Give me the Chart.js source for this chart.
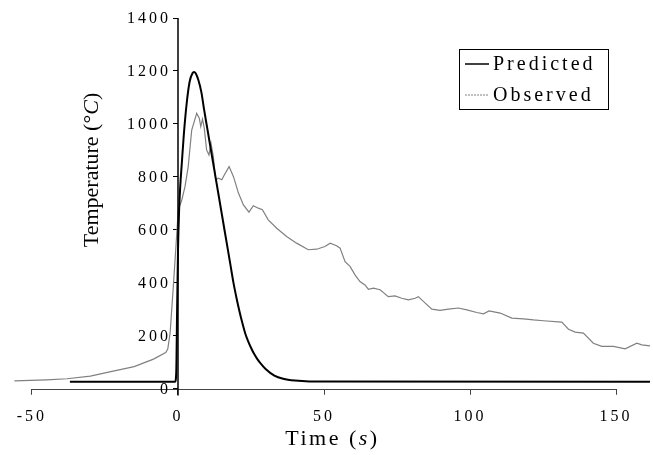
<!DOCTYPE html>
<html>
<head>
<meta charset="utf-8">
<script src="https://cdn.jsdelivr.net/npm/chart.js@4/dist/chart.umd.min.js"></script>
<style>
  html, body { margin: 0; padding: 0; background: #fff; }
  #wrap { width: 653px; height: 455px; position: relative; }
</style>
</head>
<body>
<div id="wrap"><canvas id="tempChart"></canvas></div>
<script>
// values
const xTicks = [-50, 0, 50, 100, 150];

const predTime = [-37, -1, -0.6, -0.3, 0, 0.4, 0.8, 1.3, 2, 3, 4, 5, 5.5, 6, 7, 8, 9, 10, 11, 12, 13, 14,
  15, 16, 17, 18, 19, 20, 21, 22, 23, 24, 25, 26, 27, 28, 30, 33, 36, 40, 45, 161.6];
const predTemp = [27, 27, 60, 300, 520, 680, 770, 850, 960, 1080, 1160, 1192, 1196, 1192, 1165, 1120, 1050, 985,
  920, 855, 790, 725, 660, 595, 530, 465, 400, 345, 295, 250, 210, 180, 155, 133, 115, 100, 75, 50, 38, 31, 28, 27];

const obsTime = [-56, -45, -38, -30, -23, -15, -8.4, -4.2, -3.5, -2.7, -1.6, -0.7, 0.1, 1.3, 2.4, 3.5, 4.7,
  6.4, 7.3, 7.8, 8.4, 9, 9.8, 10.6, 11.3, 12.1, 12.9, 13.8, 15, 15.9, 17.5, 19, 20.7, 22.4, 24.3, 25.8,
  27.5, 28.9, 30.9, 33.8, 37.2, 40.6, 44.6, 47.5, 50.3, 52.1, 54.3, 55.5, 57.2, 58.9, 60.6, 62.3, 64,
  65.2, 66.9, 69.2, 72, 74.3, 76.6, 78.9, 81.2, 82.3, 84, 86.9, 89.7, 92.6, 96, 98.9, 102.3, 104.6,
  106.5, 110.3, 114.3, 118.3, 121.7, 125.1, 131.4, 133.7, 136, 138.8, 142.2, 145.1, 149.1, 153.1,
  157.1, 158.8, 161.6];
const obsTemp = [30, 34, 38, 48, 65, 84, 112, 137, 150, 210, 386, 537, 676, 713, 763, 839, 977,
  1040, 1022, 990, 1018, 984, 902, 883, 927, 877, 789, 795, 789, 808, 839, 801, 739, 694, 667, 691,
  682, 676, 638, 606, 575, 550, 525, 527, 537, 550, 540, 531, 480, 462, 430, 405, 392,
  376, 380, 374, 348, 351, 342, 336, 342, 348, 330, 301, 296, 301, 305, 298, 288, 283,
  294, 286, 267, 264, 260, 257, 252, 225, 214, 210, 172, 160, 160, 151,
  172, 166, 162];

const serif = '"Liberation Serif", "Times New Roman", serif';

function toPoints(xs, ys) {
  return xs.map((v, i) => ({ x: v, y: ys[i] }));
}

// draws a run of text parts, some italic
function drawParts(ctx, parts, cx, cy, size, spacing) {
  ctx.letterSpacing = spacing + 'px';
  let total = 0;
  const widths = parts.map(p => {
    ctx.font = (p[1] ? 'italic ' : '') + size + 'px ' + serif;
    const w = ctx.measureText(p[0]).width;
    total += w;
    return w;
  });
  let px = cx - total / 2;
  ctx.textAlign = 'left';
  ctx.textBaseline = 'middle';
  parts.forEach((p, i) => {
    ctx.font = (p[1] ? 'italic ' : '') + size + 'px ' + serif;
    ctx.fillText(p[0], px, cy);
    px += widths[i];
  });
}

const decor = {
  id: 'decor',
  beforeDraw(chart) {
    chart.ctx.letterSpacing = '3px';
  },
  afterDraw(chart) {
    const { ctx, scales: { x, y }, chartArea } = chart;
    ctx.save();
    ctx.fillStyle = '#000';

    // x axis line, only between first and last tick
    const y0 = Math.round(y.getPixelForValue(0)) + 0.5;
    ctx.strokeStyle = '#444';
    ctx.lineWidth = 1;
    ctx.beginPath();
    ctx.moveTo(x.getPixelForValue(xTicks[0]), y0);
    ctx.lineTo(x.getPixelForValue(xTicks[xTicks.length - 1]), y0);
    ctx.stroke();

    // y axis line at x = 0, running a little past the x axis
    const x0 = Math.round(x.getPixelForValue(0));
    ctx.strokeStyle = '#000';
    ctx.lineWidth = 1.5;
    ctx.beginPath();
    ctx.moveTo(x0, y.getPixelForValue(y.max));
    ctx.lineTo(x0, y0 + 6);
    ctx.stroke();

    // y tick labels, left of the tick marks
    ctx.letterSpacing = '3px';
    ctx.font = '16px ' + serif;
    ctx.textAlign = 'right';
    ctx.textBaseline = 'middle';
    y.ticks.forEach(t => {
      ctx.fillText(String(t.value), x0 - 7, y.getPixelForValue(t.value) + 1);
    });

    // axis titles
    drawParts(ctx, [['Time (', false], ['s', true], [')', false]],
      (chartArea.left + chartArea.right) / 2, 439, 22, 2.5);
    ctx.save();
    ctx.translate(92, 170);
    ctx.rotate(-Math.PI / 2);
    drawParts(ctx, [['Temperature (°', false], ['C', true], [')', false]], 0, 0, 22, 0);
    ctx.restore();

    // legend box
    ctx.letterSpacing = '0px';
    ctx.strokeStyle = '#000';
    ctx.lineWidth = 1;
    ctx.strokeRect(459.5, 49.5, 149, 60);
    chart.data.datasets.forEach((ds, i) => {
      const ly = 64 + i * 31;
      ctx.strokeStyle = ds.borderColor;
      ctx.lineWidth = i === 0 ? 1.5 : 1;
      ctx.setLineDash(i === 1 ? [2, 1] : []);
      ctx.beginPath();
      ctx.moveTo(465, ly);
      ctx.lineTo(489, ly);
      ctx.stroke();
      ctx.setLineDash([]);
      ctx.letterSpacing = '3px';
      ctx.font = '20px ' + serif;
      ctx.textAlign = 'left';
      ctx.textBaseline = 'middle';
      ctx.fillStyle = '#000';
      ctx.fillText(ds.label, 493, ly + 1);
    });
    ctx.restore();
  }
};

new Chart(document.getElementById('tempChart'), {
  type: 'line',
  data: {
    datasets: [{
      label: 'Predicted',
      data: toPoints(predTime, predTemp),
      borderColor: '#000',
      borderWidth: 2,
      pointRadius: 0,
      cubicInterpolationMode: 'monotone',
      clip: false
    }, {
      label: 'Observed',
      data: toPoints(obsTime, obsTemp),
      borderColor: '#808080',
      borderWidth: 1.2,
      pointRadius: 0,
      tension: 0,
      clip: false
    }]
  },
  options: {
    responsive: true,
    maintainAspectRatio: false,
    animation: false,
    layout: { padding: { left: 15, right: 3, top: 18, bottom: 17 } },
    plugins: { legend: { display: false }, tooltip: { enabled: false } },
    scales: {
      x: {
        type: 'linear',
        min: -55.8,
        max: 161.6,
        afterBuildTicks: s => { s.ticks = xTicks.map(v => ({ value: v })); },
        border: { display: false },
        grid: { drawOnChartArea: false, drawTicks: true, tickLength: 6, color: '#444' },
        ticks: { color: '#000', padding: 12, maxRotation: 0, font: { family: serif, size: 16 } }
      },
      y: {
        position: { x: 0 },
        min: 0,
        max: 1400,
        ticks: { stepSize: 200, display: false },
        border: { display: false },
        grid: { drawOnChartArea: false, drawTicks: true, tickLength: 5, color: '#000' }
      }
    }
  },
  plugins: [decor]
});
</script>
</body>
</html>
